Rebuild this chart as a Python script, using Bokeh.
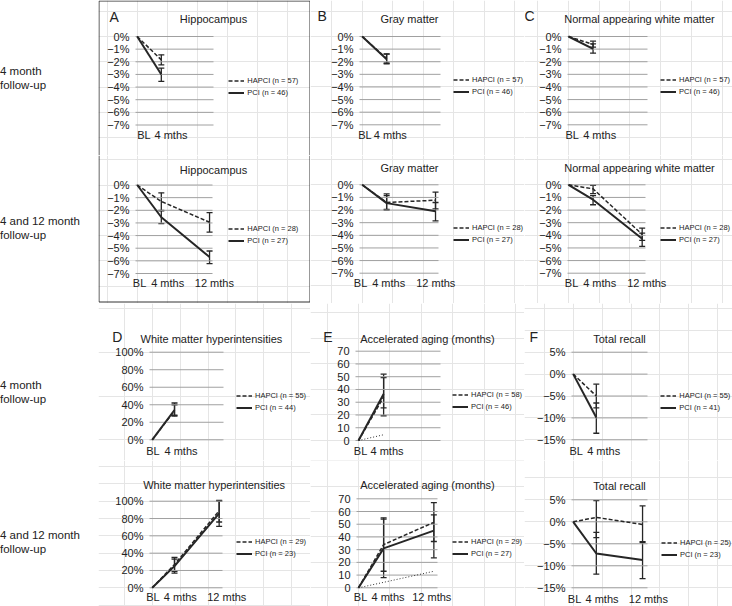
from bokeh.plotting import figure
from bokeh.layouts import row, column
from bokeh.models import (Range1d, Label, Legend, LegendItem, Whisker,
                          ColumnDataSource, TeeHead, Div)
from bokeh.core.properties import value
from bokeh.embed import file_html
from bokeh.resources import INLINE

FONT = "Liberation Sans"
TXT = "#222222"
GRID = "#a0a0a0"
INK = "#262626"

# ---------------- data ----------------
months_4 = [0, 4]
months_12 = [0, 4, 12]
x_labels_4 = ["BL", "4 mths"]
x_labels_12 = ["BL", "4 mths", "12 mths"]

pct_ticks = [0, -1, -2, -3, -4, -5, -6, -7]
pct_labels = ["0%", "−1%", "−2%", "−3%", "−4%", "−5%", "−6%", "−7%"]
wmh_ticks = [0, 20, 40, 60, 80, 100]
wmh_labels = ["0%", "20%", "40%", "60%", "80%", "100%"]
age_ticks = [0, 10, 20, 30, 40, 50, 60, 70]
age_labels = ["0", "10", "20", "30", "40", "50", "60", "70"]
rec_ticks = [5, 0, -5, -10, -15]
rec_labels = ["5%", "0%", "−5%", "−10%", "−15%"]

row_labels = ["4 month<br>follow-up", "4 and 12 month<br>follow-up"]

# Hippocampus
hip4_hapci = [0, -1.85]; hip4_hapci_lo = [-2.25]; hip4_hapci_hi = [-1.45]
hip4_pci = [0, -3.0]; hip4_pci_lo = [-3.55]; hip4_pci_hi = [-2.5]
hip12_hapci = [0, -1.3, -2.95]; hip12_hapci_lo = [-2.0, -3.72]; hip12_hapci_hi = [-0.62, -2.19]
hip12_pci = [0, -2.55, -5.7]; hip12_pci_lo = [-3.05, -6.22]; hip12_pci_hi = [-2.05, -5.22]
# Gray matter
gm4_hapci = [0, -1.75]; gm4_hapci_lo = [-2.1]; gm4_hapci_hi = [-1.4]
gm4_pci = [0, -1.8]; gm4_pci_lo = [-2.16]; gm4_pci_hi = [-1.37]
gm12_hapci = [0, -1.4, -1.22]; gm12_hapci_lo = [-1.95, -1.9]; gm12_hapci_hi = [-0.85, -0.58]
gm12_pci = [0, -1.45, -2.1]; gm12_pci_lo = [-2.0, -2.86]; gm12_pci_hi = [-0.72, -1.4]
# Normal appearing white matter
nawm4_hapci = [0, -0.63]; nawm4_hapci_lo = [-0.85]; nawm4_hapci_hi = [-0.37]
nawm4_pci = [0, -0.98]; nawm4_pci_lo = [-1.32]; nawm4_pci_hi = [-0.58]
nawm12_hapci = [0, -0.32, -3.93]; nawm12_hapci_lo = [-0.7, -4.4]; nawm12_hapci_hi = [-0.05, -3.43]
nawm12_pci = [0, -1.18, -4.27]; nawm12_pci_lo = [-1.58, -4.88]; nawm12_pci_hi = [-0.85, -3.83]
# White matter hyperintensities
wmh4_hapci = [0, 33]; wmh4_hapci_lo = [28]; wmh4_hapci_hi = [40]
wmh4_pci = [0, 34]; wmh4_pci_lo = [27]; wmh4_pci_hi = [42]
wmh12_hapci = [0, 27, 89]; wmh12_hapci_lo = [19, 76]; wmh12_hapci_hi = [35, 101]
wmh12_pci = [0, 25, 86]; wmh12_pci_lo = [17, 71]; wmh12_pci_hi = [33, 100]
# Accelerated aging (months)
age4_hapci = [0, 34]; age4_hapci_lo = [25.6]; age4_hapci_hi = [49.4]
age4_pci = [0, 36.5]; age4_pci_lo = [19.4]; age4_pci_hi = [52]
age4_normal = [0, 4.5]
age12_hapci = [0, 34, 51.5]; age12_hapci_lo = [13, 36.4]; age12_hapci_hi = [55, 67]
age12_pci = [0, 31, 45]; age12_pci_lo = [8, 23.6]; age12_pci_hi = [54, 57.4]
age12_normal = [0, 4.3, 13]
# Total recall
rec4_hapci = [0, -5]; rec4_hapci_lo = [-7.7]; rec4_hapci_hi = [-2.3]
rec4_pci = [0, -9.9]; rec4_pci_lo = [-13.5]; rec4_pci_hi = [-6.6]
rec12_hapci = [0, 1.0, -0.6]; rec12_hapci_lo = [-3.6, -4.7]; rec12_hapci_hi = [4.8, 3.6]
rec12_pci = [0, -7.2, -8.7]; rec12_pci_lo = [-11.9, -12.9]; rec12_pci_hi = [-2.4, -4.5]


def panel(g, months, xlabels, hap, hap_lo, hap_hi, pci, pci_lo, pci_hi,
          leg_labels, ticks, tick_labels, normal=None, box=None):
    fx0, fy0, fx1, fy1 = g["fig"]
    gx0, gx1 = g["gx"]
    gyt, gyb = g["gy"]
    ymax, ymin = g["yv"]
    bl, k = g["bl"], g["k"]
    sy = (ymax - ymin) / (gyb - gyt)

    def X(px):
        return (px - bl) / k

    def Y(py):
        return ymax - (py - gyt) * sy

    p = figure(width=fx1 - fx0, height=fy1 - fy0,
               x_range=Range1d(X(fx0), X(fx1)), y_range=Range1d(Y(fy1), Y(fy0)),
               min_border=0, min_border_left=0, min_border_right=0,
               min_border_top=0, min_border_bottom=0,
               toolbar_location=None, output_backend="svg",
               x_axis_location=None, y_axis_location=None, title=None)
    p.outline_line_color = None
    p.background_fill_color = "white"
    p.border_fill_color = "white"

    n = len(ticks)
    # horizontal grid lines at the tick values, and tick labels
    p.segment(x0=[X(gx0)] * n, y0=ticks, x1=[X(gx1)] * n, y1=ticks,
              line_color=GRID, line_width=1)
    p.text(x=[X(gx0 - 6)] * n, y=ticks, text=tick_labels, text_align="right",
           text_baseline="middle", text_font=value(FONT), text_font_size="11px",
           text_color=TXT)

    if normal is not None:
        p.line(months, normal, line_color="#333333", line_width=1, line_dash="1 2")
    r_h = p.line(months, hap, line_color=INK, line_width=1.5, line_dash="4 2")
    r_p = p.line(months, pci, line_color=INK, line_width=2)
    for lo, hi in [(hap_lo, hap_hi), (pci_lo, pci_hi)]:
        src = ColumnDataSource(dict(base=months[1:], lower=lo, upper=hi))
        p.add_layout(Whisker(source=src, base="base", lower="lower", upper="upper",
                             dimension="height", line_color=INK, line_width=1.3,
                             upper_head=TeeHead(size=6, line_color=INK, line_width=1.3),
                             lower_head=TeeHead(size=6, line_color=INK, line_width=1.3)))

    # title and panel letter
    t_text, tx, ty, talign = g["title"]
    p.add_layout(Label(x=X(tx), y=Y(ty), text=t_text, text_font=FONT, text_font_size="11px",
                       text_color=TXT, text_align=talign, text_baseline="middle"))
    if g.get("letter"):
        l_text, lx, ly = g["letter"]
        p.add_layout(Label(x=X(lx), y=Y(ly), text=l_text, text_font=FONT, text_font_size="14px",
                           text_color=TXT, text_align="left", text_baseline="middle"))
    # time-point labels under the plot
    for lab, left in zip(xlabels, g["xl_lefts"]):
        p.add_layout(Label(x=X(left), y=Y(g["xl_y"]), text=lab, text_font=FONT,
                           text_font_size="11px", text_color=TXT,
                           text_align="left", text_baseline="middle"))
    # legend
    c1 = g["leg_c1"]
    legend = Legend(items=[LegendItem(label=leg_labels[0], renderers=[r_h]),
                           LegendItem(label=leg_labels[1], renderers=[r_p])],
                    location=(g["leg_x"] - 19 - fx0, fy1 - (c1 + 17.5)),
                    orientation="vertical", glyph_width=16, glyph_height=11,
                    label_height=11, label_width=10, spacing=1, padding=0, margin=0,
                    label_standoff=3, label_text_font=FONT, label_text_font_size="7.5px",
                    label_text_color=TXT, border_line_color=None, background_fill_alpha=0)
    p.add_layout(legend)

    # frame box around panel A (drawn as edges inside each figure)
    if box:
        bx0, by0, bx1, by1 = box
        xs0, ys0, xs1, ys1 = [], [], [], []
        edges = [((bx0, by0), (bx0, by1)), ((bx1, by0), (bx1, by1))]
        if by0 >= fy0:
            edges.append(((bx0, by0), (bx1, by0)))
        if by1 <= fy1:
            edges.append(((bx0, by1), (bx1, by1)))
        for (a, b), (c, d) in edges:
            xs0.append(X(a)); ys0.append(Y(max(b, fy0)))
            xs1.append(X(c)); ys1.append(Y(min(d, fy1)))
        p.segment(x0=xs0, y0=ys0, x1=xs1, y1=ys1, line_color="#333333", line_width=1)
    return p


G = {
    "A1": dict(fig=(98, 0, 310, 155), gx=(135, 213), gy=(36, 124.5), yv=(0, -7), bl=136.7, k=6.03,
               title=("Hippocampus", 213, 18.5, "center"), letter=("A", 109, 16.5),
               xl_y=134.5, xl_lefts=[136.7, 154], leg_x=247.3, leg_c1=80),
    "A2": dict(fig=(98, 155, 310, 303), gx=(135, 212), gy=(184.5, 273), yv=(0, -7), bl=136.7, k=6.03,
               title=("Hippocampus", 213, 169, "center"),
               xl_y=282.5, xl_lefts=[132.3, 150.7, 194.3], leg_x=247.3, leg_c1=228.3),
    "B1": dict(fig=(310, 0, 524, 155), gx=(359, 440), gy=(36, 124.3), yv=(0, -7), bl=361.7, k=6.11,
               title=("Gray matter", 409, 18, "center"), letter=("B", 317, 15.5),
               xl_y=134.5, xl_lefts=[357.7, 373.3], leg_x=472, leg_c1=79),
    "B2": dict(fig=(310, 155, 524, 303), gx=(359, 438), gy=(184.3, 272.7), yv=(0, -7), bl=361.7, k=6.11,
               title=("Gray matter", 409, 167.5, "center"),
               xl_y=282.3, xl_lefts=[353.3, 371.7, 415.7], leg_x=472, leg_c1=227.7),
    "C1": dict(fig=(524, 0, 732, 155), gx=(567, 647), gy=(36, 124.3), yv=(0, -7), bl=568, k=6.14,
               title=("Normal appearing white matter", 639, 18, "center"), letter=("C", 524, 15.5),
               xl_y=134.5, xl_lefts=[565, 582.7], leg_x=679, leg_c1=79),
    "C2": dict(fig=(524, 155, 732, 303), gx=(567, 645), gy=(184.3, 272.7), yv=(0, -7), bl=568, k=6.14,
               title=("Normal appearing white matter", 639, 167.3, "center"),
               xl_y=282.3, xl_lefts=[564.3, 582.7, 626.7], leg_x=679, leg_c1=227.3),
    "D1": dict(fig=(98, 303, 310, 460), gx=(149, 223), gy=(351.7, 439.3), yv=(100, 0), bl=151.7, k=5.58,
               title=("White matter hyperintensities", 140, 338.3, "left"), letter=("D", 111.7, 336),
               xl_y=450, xl_lefts=[145.7, 164], leg_x=255, leg_c1=395),
    "D2": dict(fig=(98, 460, 310, 606), gx=(149, 222), gy=(500.7, 587.3), yv=(100, 0), bl=151.7, k=5.58,
               title=("White matter hyperintensities", 142.7, 484, "left"),
               xl_y=596.7, xl_lefts=[145.7, 163.3, 206.7], leg_x=255, leg_c1=541.5),
    "E1": dict(fig=(310, 303, 524, 460), gx=(355, 440), gy=(350.7, 440), yv=(70, 0), bl=358, k=6.28,
               title=("Accelerated aging (months)", 427, 338.3, "center"), letter=("E", 322.7, 336),
               xl_y=450, xl_lefts=[353.3, 370], leg_x=471, leg_c1=394.3),
    "E2": dict(fig=(310, 460, 524, 606), gx=(356, 437), gy=(498.3, 587.3), yv=(70, 0), bl=358, k=6.28,
               title=("Accelerated aging (months)", 427, 484, "center"),
               xl_y=596.7, xl_lefts=[353.3, 371, 411.7], leg_x=471, leg_c1=541.7),
    "F1": dict(fig=(524, 303, 732, 460), gx=(571, 647), gy=(351.7, 439.3), yv=(5, -15), bl=572.7, k=5.78,
               title=("Total recall", 619, 338.3, "center"), letter=("F", 529, 336),
               xl_y=450, xl_lefts=[569, 586.7], leg_x=679.3, leg_c1=395),
    "F2": dict(fig=(524, 460, 732, 606), gx=(571, 647), gy=(499.3, 587.3), yv=(5, -15), bl=572.7, k=5.78,
               title=("Total recall", 619, 485, "center"),
               xl_y=598.3, xl_lefts=[567.3, 585, 628.3], leg_x=680, leg_c1=542.3),
}

BOX_A = (98.5, 0.5, 309.5, 301.5)

pA1 = panel(G["A1"], months_4, x_labels_4, hip4_hapci, hip4_hapci_lo, hip4_hapci_hi,
            hip4_pci, hip4_pci_lo, hip4_pci_hi, ["HAPCI (n = 57)", "PCI (n = 46)"], pct_ticks, pct_labels,
            box=BOX_A)
pA2 = panel(G["A2"], months_12, x_labels_12, hip12_hapci, hip12_hapci_lo, hip12_hapci_hi,
            hip12_pci, hip12_pci_lo, hip12_pci_hi, ["HAPCI (n = 28)", "PCI (n = 27)"], pct_ticks, pct_labels,
            box=BOX_A)
pB1 = panel(G["B1"], months_4, x_labels_4, gm4_hapci, gm4_hapci_lo, gm4_hapci_hi,
            gm4_pci, gm4_pci_lo, gm4_pci_hi, ["HAPCI (n = 57)", "PCI (n = 46)"], pct_ticks, pct_labels)
pB2 = panel(G["B2"], months_12, x_labels_12, gm12_hapci, gm12_hapci_lo, gm12_hapci_hi,
            gm12_pci, gm12_pci_lo, gm12_pci_hi, ["HAPCI (n = 28)", "PCI (n = 27)"], pct_ticks, pct_labels)
pC1 = panel(G["C1"], months_4, x_labels_4, nawm4_hapci, nawm4_hapci_lo, nawm4_hapci_hi,
            nawm4_pci, nawm4_pci_lo, nawm4_pci_hi, ["HAPCI (n = 57)", "PCI (n = 46)"], pct_ticks, pct_labels)
pC2 = panel(G["C2"], months_12, x_labels_12, nawm12_hapci, nawm12_hapci_lo, nawm12_hapci_hi,
            nawm12_pci, nawm12_pci_lo, nawm12_pci_hi, ["HAPCI (n = 28)", "PCI (n = 27)"], pct_ticks, pct_labels)
pD1 = panel(G["D1"], months_4, x_labels_4, wmh4_hapci, wmh4_hapci_lo, wmh4_hapci_hi,
            wmh4_pci, wmh4_pci_lo, wmh4_pci_hi, ["HAPCI (n = 55)", "PCI (n = 44)"], wmh_ticks, wmh_labels)
pD2 = panel(G["D2"], months_12, x_labels_12, wmh12_hapci, wmh12_hapci_lo, wmh12_hapci_hi,
            wmh12_pci, wmh12_pci_lo, wmh12_pci_hi, ["HAPCI (n = 29)", "PCI (n = 23)"], wmh_ticks, wmh_labels)
pE1 = panel(G["E1"], months_4, x_labels_4, age4_hapci, age4_hapci_lo, age4_hapci_hi,
            age4_pci, age4_pci_lo, age4_pci_hi, ["HAPCI (n = 58)", "PCI (n = 46)"], age_ticks, age_labels,
            normal=age4_normal)
pE2 = panel(G["E2"], months_12, x_labels_12, age12_hapci, age12_hapci_lo, age12_hapci_hi,
            age12_pci, age12_pci_lo, age12_pci_hi, ["HAPCI (n = 29)", "PCI (n = 27)"], age_ticks, age_labels,
            normal=age12_normal)
pF1 = panel(G["F1"], months_4, x_labels_4, rec4_hapci, rec4_hapci_lo, rec4_hapci_hi,
            rec4_pci, rec4_pci_lo, rec4_pci_hi, ["HAPCI (n = 55)", "PCI (n = 41)"], rec_ticks, rec_labels)
pF2 = panel(G["F2"], months_12, x_labels_12, rec12_hapci, rec12_hapci_lo, rec12_hapci_hi,
            rec12_pci, rec12_pci_lo, rec12_pci_hi, ["HAPCI (n = 25)", "PCI (n = 23)"], rec_ticks, rec_labels)


def side_label(text, h, pad):
    html = ('<div style="font-family:\'Liberation Sans\';font-size:11.5px;line-height:14.3px;'
            'color:#222222;padding-top:%.1fpx;white-space:nowrap">%s</div>' % (pad, text))
    return Div(text=html, width=98, height=h, margin=0)


labels_top = column(side_label(row_labels[0], 155, 63.5), side_label(row_labels[1], 148, 59))
labels_bot = column(side_label(row_labels[0], 157, 75), side_label(row_labels[1], 146, 68))

top = row(labels_top, column(pA1, pA2), column(pB1, pB2), column(pC1, pC2))
bottom = row(labels_bot, column(pD1, pD2), column(pE1, pE2), column(pF1, pF2))
p = column(top, bottom)

open("out.html", "w").write(file_html(p, INLINE))
